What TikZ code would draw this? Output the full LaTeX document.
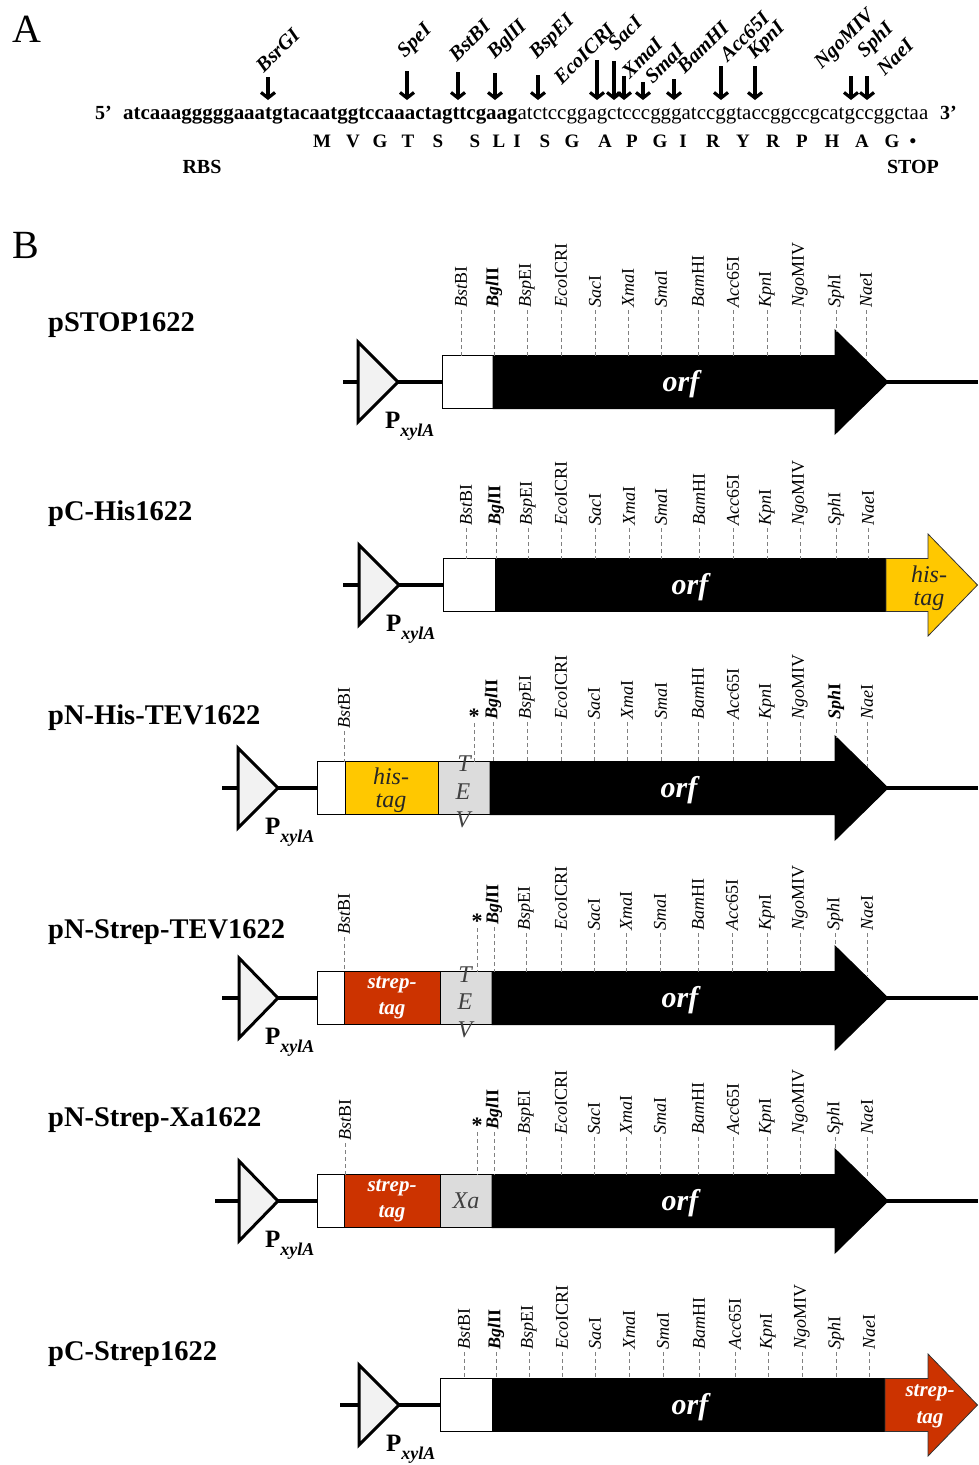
\documentclass[tikz,border=0pt]{standalone}
\usepackage{fontspec}
\usepackage{graphicx}
\setmainfont{Liberation Serif}
\usetikzlibrary{arrows.meta}
\definecolor{histag}{HTML}{FFC800}
\definecolor{streptag}{HTML}{CC3300}
\definecolor{tevgray}{HTML}{DCDCDC}
\definecolor{promfill}{HTML}{F2F2F2}
\definecolor{dashgray}{HTML}{808080}
\newcommand\fs[1]{\fontsize{#1}{#1}\selectfont}
\newcommand\zBst{\textit{Bst}BI}
\newcommand\zBgl{\textbf{\textit{Bgl}II}}
\newcommand\zBsp{\textit{Bsp}EI}
\newcommand\zEco{\textit{Eco}ICRI}
\newcommand\zSac{\textit{Sac}I}
\newcommand\zXma{\textit{Xma}I}
\newcommand\zSma{\textit{Sma}I}
\newcommand\zBam{\textit{Bam}HI}
\newcommand\zAcc{\textit{Acc}65I}
\newcommand\zKpn{\textit{Kpn}I}
\newcommand\zNgo{\textit{Ngo}MIV}
\newcommand\zSph{\textit{Sph}I}
\newcommand\zSphb{\textbf{\textit{Sph}I}}
\newcommand\zNae{\textit{Nae}I}
\newcommand\promoter[4]{%
  \draw[prom] (#1,#3-40) -- (#2,#3) -- (#1,#3+40) -- cycle;
  \node[pxyl] (#4) at (#2-13,#3+46) {P\raisebox{-8pt}{\fs{18}\itshape xylA}};}
\newcommand\orfarrow[2]{%
  \filldraw[orfshape] (#1,#2-26.5) -- (835,#2-26.5) -- (835,#2-52) -- (888,#2) -- (835,#2+52) -- (835,#2+26.5) -- (#1,#2+26.5) -- cycle;}
\newcommand\tagarrow[3]{% #1 colour, #2 yc, #3 start x
  \filldraw[fill=#1,draw=black!80,line width=0.8pt,line join=miter] (#3,#2-26.5) -- (928,#2-26.5) -- (928,#2-51) -- (977.5,#2) -- (928,#2+51) -- (928,#2+26.5) -- (#3,#2+26.5) -- cycle;}
\newcommand\siterow[2]{%
  \foreach \sx/\se/\sb/\st [count=\si] in {#2} {%
    \node[sitelab] (#1s\si) at (\sx,\sb) {\st};
    \draw[dashln] (#1s\si.west) -- (\sx,\se);}}
\begin{document}
\begin{tikzpicture}[x=1pt,y=-1pt,
  backbone/.style={line width=4pt},
  prom/.style={draw=black,line width=3pt,fill=promfill,line join=miter},
  segbox/.style={draw=black,line width=1pt},
  orfshape/.style={fill=black,draw=black,line width=1pt,line join=miter},
  rowtitle/.style={anchor=base west,inner sep=0pt,font=\fs{28.5}\bfseries},
  panellab/.style={anchor=base west,inner sep=0pt,font=\fs{40}},
  seqtxt/.style={anchor=base west,inner sep=0pt,font=\fs{20}\bfseries},
  aacid/.style={anchor=base,inner sep=0pt,font=\fs{19}\bfseries},
  enzlab/.style={rotate=45,anchor=south west,inner sep=0pt,font=\fs{20.5}\bfseries\itshape},
  cutarrow/.style={line width=3.2pt,-{Straight Barb[length=5.5pt,width=14pt]}},
  sitelab/.style={rotate=90,anchor=west,inner sep=2pt,font=\fs{18}},
  dashln/.style={draw=dashgray,line width=0.9pt,dash pattern=on 4pt off 3pt},
  orftxt/.style={font=\fs{30}\bfseries\itshape,text=white,inner sep=0pt},
  histxt/.style={font=\fs{24}\itshape,text=black!85,inner sep=0pt},
  streptxt/.style={font=\fs{21}\bfseries\itshape,text=white,inner sep=0pt},
  tevtxt/.style={font=\fs{24}\itshape,text=black!75,inner sep=0pt},
  astx/.style={font=\fs{22}\bfseries,inner sep=0pt},
  pxyl/.style={anchor=base west,inner sep=0pt,font=\fs{25}\bfseries},
]
\useasboundingbox (0,0) rectangle (978,1465);
\fill[white] (0,0) rectangle (978,1465);

% ---------------- Panel A ----------------
\node[panellab] (labA) at (12,42) {A};
\node[seqtxt] (five) at (95,119) {5’};
\node[seqtxt] (seq) at (123,119) {\resizebox{805pt}{!}{\fs{21}\textbf{atcaaagggggaaatgtacaatggtccaaactagttcgaag}\mdseries atctccggagctcccgggatccggtaccggccgcatgccggctaa}};
\node[seqtxt] (three) at (940,119) {3’};
\foreach \x/\a [count=\i] in {322/M,353/V,380/G,408/T,438/S,475/S,499/L,517/I,545/S,572/G,605/A,632/P,660/G,683/I,713/R,743/Y,773/R,802/P,832/H,862/A,892/G,913/•}
  \node[aacid] (aa\i) at (\x,147) {\a};
\node[aacid,font=\fs{20}\bfseries] (rbs) at (202,173) {RBS};
\node[aacid,font=\fs{20}\bfseries] (stop) at (913,173) {STOP};
\foreach \x/\t [count=\i] in {268/77,407/71,458/72,495/73,538/75,597/60,614/61,624/76,643/82,674/79,721/66,755/66,851/76,867/76} {
  \coordinate (ct\i) at (\x,\t);
  \coordinate (cb\i) at (\x,100);
  \draw[cutarrow] (ct\i) -- (cb\i);}
\foreach \lx/\ly/\nm [count=\i] in {264/74/BsrGI,408/62/SpeI,457/63/BstBI,498/63/BglII,540/63/BspEI,562/86/EcoICRI,616/52/SacI,630/80/XmaI,653/85/SmaI,685/75/BamHI,728/63/Acc65I,758/63/KpnI,825/73/NgoMIV,868/62/SphI,885/77/NaeI}
  \node[enzlab] (enz\i) at (\lx,\ly) {\nm};

% ---------------- Panel B ----------------
\node[panellab] (labB) at (12,258) {B};

% Row 1: pSTOP1622
\node[rowtitle] (t1) at (48,331) {pSTOP1622};
\draw[backbone] (343,382) -- (978,382);
\promoter{358}{398}{382}{p1}
\draw[segbox,fill=white] (442,355.5) rectangle (493,408.5);
\orfarrow{493}{382}
\node[orftxt] (o1) at (681,384) {orf};
\siterow{r1}{461/355.5/310/\zBst,494/355.5/310/\zBgl,527/355.5/310/\zBsp,561/355.5/310/\zEco,595/355.5/310/\zSac,628/355.5/310/\zXma,661/355.5/310/\zSma,698/355.5/310/\zBam,733/355.5/310/\zAcc,767/355.5/310/\zKpn,800/355.5/310/\zNgo,836/332/310/\zSph,866/360/310/\zNae}

% Row 2: pC-His1622
\node[rowtitle] (t2) at (48,520) {pC-His1622};
\draw[backbone] (343,585) -- (886,585);
\promoter{359}{399}{585}{p2}
\draw[segbox,fill=white] (443,558.5) rectangle (495,611.5);
\filldraw[orfshape] (495,558.5) rectangle (886,611.5);
\tagarrow{histag}{585}{886}
\node[orftxt] (o2) at (690,587) {orf};
\node[histxt] (h2a) at (929,574) {his-};
\node[histxt] (h2b) at (929,601) {tag};
\siterow{r2}{466/558.5/528/\zBst,496/558.5/528/\zBgl,528/558.5/528/\zBsp,561/558.5/528/\zEco,595/558.5/528/\zSac,629/558.5/528/\zXma,661/558.5/528/\zSma,699/558.5/528/\zBam,733/558.5/528/\zAcc,767/558.5/528/\zKpn,800/558.5/528/\zNgo,836/558.5/528/\zSph,868/558.5/528/\zNae}

% Row 3: pN-His-TEV1622
\node[rowtitle] (t3) at (48,724) {pN-His-TEV1622};
\draw[backbone] (222,788) -- (978,788);
\promoter{238}{278}{788}{p3}
\draw[segbox,fill=white] (317,761.5) rectangle (345,814.5);
\draw[segbox,fill=histag] (345,761.5) rectangle (438,814.5);
\draw[segbox,fill=tevgray] (438,761.5) rectangle (490,814.5);
\orfarrow{490}{788}
\node[orftxt] (o3) at (679,790) {orf};
\node[histxt] (h3a) at (391,776) {his-};
\node[histxt] (h3b) at (391,803) {tag};
\node[tevtxt] (v3t) at (464,764) {T};
\node[tevtxt] (v3e) at (463,792) {E};
\node[tevtxt] (v3v) at (463,820) {V};
\node[astx] (a3) at (474,716) {*};
\draw[dashln] (a3.south) -- (474,761.5);
\siterow{r3}{344/761.5/731/\zBst,493/761.5/722/\zBgl,527/761.5/722/\zBsp,561/761.5/722/\zEco,594/761.5/722/\zSac,627/761.5/722/\zXma,661/761.5/722/\zSma,698/761.5/722/\zBam,733/761.5/722/\zAcc,767/761.5/722/\zKpn,800/761.5/722/\zNgo,836/738/722/\zSphb,867/767/722/\zNae}

% Row 4: pN-Strep-TEV1622
\node[rowtitle] (t4) at (48,938) {pN-Strep-TEV1622};
\draw[backbone] (222,998) -- (978,998);
\promoter{239}{278}{998}{p4}
\draw[segbox,fill=white] (317,971.5) rectangle (344,1024.5);
\draw[segbox,fill=streptag] (344,971.5) rectangle (440,1024.5);
\draw[segbox,fill=tevgray] (440,971.5) rectangle (492,1024.5);
\orfarrow{492}{998}
\node[orftxt] (o4) at (680,1000) {orf};
\node[streptxt] (s4a) at (392,985) {strep-};
\node[streptxt] (s4b) at (392,1011) {tag};
\node[tevtxt] (v4t) at (465,975) {T};
\node[tevtxt] (v4e) at (465,1002) {E};
\node[tevtxt] (v4v) at (465,1030) {V};
\node[astx] (a4) at (477,921) {*};
\draw[dashln] (a4.south) -- (477,971.5);
\siterow{r4}{344/971.5/937/\zBst,494/971.5/927/\zBgl,526/971.5/933/\zBsp,561/971.5/933/\zEco,594/971.5/933/\zSac,626/971.5/933/\zXma,660/971.5/933/\zSma,698/971.5/933/\zBam,732/971.5/933/\zAcc,767/971.5/933/\zKpn,800/971.5/933/\zNgo,835/947/933/\zSph,867/976/933/\zNae}

% Row 5: pN-Strep-Xa1622
\node[rowtitle] (t5) at (48,1126) {pN-Strep-Xa1622};
\draw[backbone] (215,1201) -- (978,1201);
\promoter{239}{278}{1201}{p5}
\draw[segbox,fill=white] (317,1174.5) rectangle (344,1227.5);
\draw[segbox,fill=streptag] (344,1174.5) rectangle (440,1227.5);
\draw[segbox,fill=tevgray] (440,1174.5) rectangle (492,1227.5);
\orfarrow{492}{1201}
\node[orftxt] (o5) at (680,1203) {orf};
\node[streptxt] (s5a) at (392,1188) {strep-};
\node[streptxt] (s5b) at (392,1214) {tag};
\node[tevtxt] (x5) at (466,1201) {Xa};
\node[astx] (a5) at (477,1125) {*};
\draw[dashln] (a5.south) -- (477,1174.5);
\siterow{r5}{345/1174.5/1143/\zBst,494/1174.5/1132/\zBgl,526/1174.5/1137/\zBsp,561/1174.5/1137/\zEco,594/1174.5/1137/\zSac,626/1174.5/1137/\zXma,660/1174.5/1137/\zSma,698/1174.5/1137/\zBam,733/1174.5/1137/\zAcc,767/1174.5/1137/\zKpn,800/1174.5/1137/\zNgo,835/1150/1137/\zSph,867/1179/1137/\zNae}

% Row 6: pC-Strep1622
\node[rowtitle] (t6) at (48,1360) {pC-Strep1622};
\draw[backbone] (340,1405) -- (885,1405);
\promoter{359}{399}{1405}{p6}
\draw[segbox,fill=white] (440,1378.5) rectangle (492,1431.5);
\filldraw[orfshape] (492,1378.5) rectangle (885,1431.5);
\tagarrow{streptag}{1405}{885}
\node[orftxt] (o6) at (690,1407) {orf};
\node[streptxt] (s6a) at (930,1393) {strep-};
\node[streptxt] (s6b) at (930,1420) {tag};
\siterow{r6}{464/1378.5/1352/\zBst,496/1378.5/1352/\zBgl,529/1378.5/1352/\zBsp,562/1378.5/1352/\zEco,595/1378.5/1352/\zSac,629/1378.5/1352/\zXma,663/1378.5/1352/\zSma,699/1378.5/1352/\zBam,735/1378.5/1352/\zAcc,768/1378.5/1352/\zKpn,802/1378.5/1352/\zNgo,836/1378.5/1352/\zSph,869/1378.5/1352/\zNae}
\end{tikzpicture}
\end{document}
